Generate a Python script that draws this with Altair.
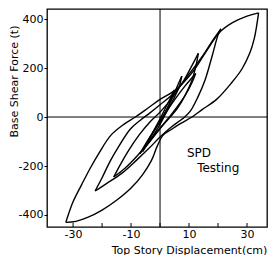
import altair as alt
import pandas as pd

# ---- hysteresis loops (displacement cm, base shear t) ----
# loop 1 (largest)
L1_up_x = [-32.5, -31.6, -29.9, -27.0, -24.0, -21.0, -17.0, -12.5, -8.5, -4.0, 0.0, 5.5, 11.5, 16.0, 20.5, 25.0, 30.0, 34.0]
L1_up_y = [-430, -397, -343, -275, -207, -146, -75, -30, 0, 38, 72, 112, 188, 269, 345, 385, 412, 425]
L1_dn_x = [34.0, 33.3, 32.5, 31.0, 28.2, 24.7, 19.5, 14.5, 11.0, 7.0, 4.0, 1.0, -1.0, -3.0, -6.0, -10.0, -15.0, -20.0, -25.0, -29.0, -32.5]
L1_dn_y = [425, 370, 320, 262, 195, 140, 72, 30, 0, -27, -50, -75, -120, -178, -235, -290, -340, -380, -410, -426, -430]
# loop 2
L2_up_x = [-22.4, -20.0, -17.2, -14.5, -10.3, -6.5, -4.0, 0.0, 5.0, 10.0, 15.0, 18.0, 21.0]
L2_up_y = [-302, -248, -180, -125, -50, -10, 12, 50, 100, 175, 255, 310, 360]
L2_dn_x = [21.0, 20.0, 18.0, 15.5, 13.0, 10.5, 8.5, 4.0, 0.0, -4.0, -8.0, -13.0, -18.5, -22.4]
L2_dn_y = [360, 335, 250, 150, 80, 25, 0, -40, -82, -130, -175, -228, -272, -302]
# loop 3
L3_up_x = [-16.0, -13.5, -10.5, -7.0, -3.5, 0.0, 4.0, 8.0, 11.0, 13.2]
L3_up_y = [-245, -190, -130, -70, -20, 20, 75, 145, 210, 260]
L3_dn_x = [13.2, 12.5, 11.0, 8.5, 6.0, 3.5, 0.0, -4.0, -8.0, -12.0, -16.0]
L3_dn_y = [260, 215, 150, 85, 35, 0, -45, -105, -160, -208, -245]
# loop 4
L4_up_x = [-7.0, -4.5, -1.5, 1.5, 5.0, 8.5, 12.3]
L4_up_y = [-150, -100, -45, 10, 70, 125, 178]
L4_dn_x = [12.3, 11.0, 8.5, 5.5, 2.5, -0.5, -3.5, -7.0]
L4_dn_y = [178, 140, 85, 35, -10, -55, -100, -150]
# loop 5
L5_up_x = [-6.0, -3.5, -0.5, 2.5, 5.0, 7.5]
L5_up_y = [-140, -85, -25, 35, 100, 167]
L5_dn_x = [7.5, 6.5, 4.5, 2.0, -0.5, -3.5, -6.0]
L5_dn_y = [167, 120, 70, 15, -40, -95, -140]
# loop 6 (smallest)
L6_up_x = [-4.0, -1.0, 2.0, 5.0]
L6_up_y = [-95, -30, 40, 110]
L6_dn_x = [5.0, 3.5, 1.0, -2.0, -4.0]
L6_dn_y = [110, 60, 0, -55, -95]

x_ticks = [-30, -20, -10, 0, 10, 20, 30]
y_ticks = [-400, -200, 0, 200, 400]
note_text = ["SPD", "Testing"]
note_x = [9.3, 12.8]
note_y = [-147, -208]

branches = {
    "L1u": (L1_up_x, L1_up_y), "L1d": (L1_dn_x, L1_dn_y),
    "L2u": (L2_up_x, L2_up_y), "L2d": (L2_dn_x, L2_dn_y),
    "L3u": (L3_up_x, L3_up_y), "L3d": (L3_dn_x, L3_dn_y),
    "L4u": (L4_up_x, L4_up_y), "L4d": (L4_dn_x, L4_dn_y),
    "L5u": (L5_up_x, L5_up_y), "L5d": (L5_dn_x, L5_dn_y),
    "L6u": (L6_up_x, L6_up_y), "L6d": (L6_dn_x, L6_dn_y),
}
rows = []
for name, (xs_, ys_) in branches.items():
    for i, (a, b) in enumerate(zip(xs_, ys_)):
        rows.append({"branch": name, "i": i, "x": a, "y": b})
df = pd.DataFrame(rows)

W, H = 220, 218
FONT = "DejaVu Sans"
xsc = alt.Scale(domain=[-39, 36.9], nice=False, zero=False)
ysc = alt.Scale(domain=[-449, 441], nice=False, zero=False)

x_axis = alt.Axis(values=x_ticks, ticks=False, tickSize=0, labelPadding=1, domain=False, grid=False,
                  labelExpr="'' + datum.value", labelFont=FONT, labelFontSize=11, labelColor="black",
                  title="Top Story Displacement(cm)", titleFont=FONT, titleFontSize=11, titleFontWeight="normal",
                  titleColor="black", titleX=142, titleY=26, titleAlign="center", titleBaseline="alphabetic")
y_axis = alt.Axis(values=y_ticks, ticks=True, tickSize=3, tickColor="black", labelPadding=1, domain=False, grid=False,
                  labelExpr="'' + datum.value", labelFont=FONT, labelFontSize=11, labelColor="black",
                  title="Base Shear Force (t)", titleFont=FONT, titleFontSize=11, titleFontWeight="normal",
                  titleColor="black", titleAngle=270, titleX=-33, titleY=72, titleAlign="center",
                  titleBaseline="middle")

curves = alt.Chart(df).mark_line(color="black", strokeWidth=1.4, interpolate="catmull-rom").encode(
    x=alt.X("x:Q", scale=xsc, axis=x_axis),
    y=alt.Y("y:Q", scale=ysc, axis=y_axis),
    detail="branch:N",
    order="i:Q",
)

zero = pd.DataFrame({"v": [0]})
vline = alt.Chart(zero).mark_rule(color="black", strokeWidth=1).encode(x=alt.X("v:Q", scale=xsc))
hline = alt.Chart(zero).mark_rule(color="black", strokeWidth=1).encode(y=alt.Y("v:Q", scale=ysc))

xt = alt.Chart(pd.DataFrame({"t": x_ticks})).mark_rule(color="black", strokeWidth=1).encode(
    x=alt.X("t:Q", scale=xsc), y=alt.value(H - 4), y2=alt.value(H))

notes = pd.DataFrame({"x": note_x, "y": note_y, "t": note_text})
txt = alt.Chart(notes).mark_text(align="left", baseline="middle", font=FONT, fontSize=12, color="black").encode(
    x=alt.X("x:Q", scale=xsc), y=alt.Y("y:Q", scale=ysc), text="t:N")

chart = alt.layer(vline, hline, xt, curves, txt).properties(
    width=W, height=H, padding=0, background="white"
).configure_view(stroke="black", strokeWidth=1.3)

chart.save("out.html", embed_options={"renderer": "svg", "actions": False})
